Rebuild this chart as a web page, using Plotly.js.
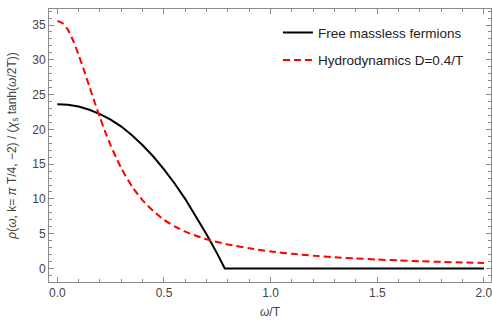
<!DOCTYPE html>
<html>
<head>
<meta charset="utf-8">
<script src="https://cdn.plot.ly/plotly-3.0.1.min.js"></script>
<style>html,body{margin:0;padding:0;background:#fff;}#chart{width:492px;height:321px;}</style>
</head>
<body>
<div id="chart"></div>
<script>
// Free massless fermions
const freeOmega = [0, 0.05, 0.10, 0.15, 0.20, 0.25, 0.30, 0.35, 0.40, 0.45, 0.50, 0.55, 0.60, 0.65, 0.70, 0.75, 0.785, 2.0];
const freeRho   = [23.6, 23.52, 23.28, 22.82, 22.2, 21.4, 20.4, 19.15, 17.72, 16.1, 14.25, 12.22, 9.98, 7.54, 4.9, 2.1, 0, 0];
// Hydrodynamics D=0.4/T
const hydroOmega = [0, 0.025, 0.05, 0.075, 0.10, 0.125, 0.15, 0.175, 0.20, 0.225, 0.25, 0.275, 0.30, 0.35, 0.40, 0.45, 0.50, 0.55, 0.60, 0.65, 0.70, 0.75, 0.80, 0.90, 1.0, 1.1, 1.2, 1.3, 1.4, 1.5, 1.6, 1.7, 1.8, 1.9, 2.0];
const hydroRho   = [35.6, 35.25, 34.3, 32.7, 30.7, 28.5, 26.2, 23.9, 21.7, 19.6, 17.7, 16.0, 14.4, 11.8, 9.8, 8.25, 7.0, 6.05, 5.3, 4.7, 4.2, 3.8, 3.45, 2.9, 2.45, 2.12, 1.85, 1.62, 1.44, 1.29, 1.16, 1.05, 0.95, 0.87, 0.8];
const seriesNames = ["Free massless fermions", "Hydrodynamics D=0.4/T"];
const xTickVals = [0, 0.5, 1.0, 1.5, 2.0];
const xTickText = ["0.0", "0.5", "1.0", "1.5", "2.0"];
const yTickVals = [0, 5, 10, 15, 20, 25, 30, 35];
const xTitle = "<i>ω</i>/T";
const yTitle = "<i>ρ</i>(<i>ω</i>, k= <i>π</i> T/4, −2) / (<i>χ</i><sub>s</sub> tanh(<i>ω</i>/2T))";

const FONT = "Liberation Sans, Arial, sans-serif";
const FRAME = "#8c8c8c";
const LABEL = "#444444";

const traces = [
  {x: freeOmega, y: freeRho, type: "scatter", mode: "lines", name: seriesNames[0],
   legendgroup: "a", line: {color: "#000000", width: 2}},
  {x: hydroOmega, y: hydroRho, type: "scatter", mode: "lines", name: seriesNames[1],
   legendgroup: "b", line: {color: "#ff0000", width: 2, dash: "7px,4px", shape: "spline", smoothing: 0.6}}
];

const axisCommon = {
  showline: true, linecolor: FRAME, linewidth: 1, mirror: "ticks",
  ticks: "inside", ticklen: 5, tickwidth: 1, tickcolor: FRAME,
  showgrid: false, zeroline: false, ticklabeloverflow: "allow",
  tickfont: {family: FONT, size: 12, color: LABEL}
};

const layout = {
  width: 492, height: 321,
  margin: {l: 49, r: 1, t: 9, b: 39, pad: 0},
  paper_bgcolor: "#ffffff", plot_bgcolor: "#ffffff",
  font: {family: FONT, size: 12, color: LABEL},
  showlegend: true,
  legend: {x: 0.518, y: 0.97, xanchor: "left", yanchor: "top",
           bgcolor: "rgba(0,0,0,0)", traceorder: "grouped", tracegroupgap: 7,
           font: {family: FONT, size: 13.5, color: "#222222"}},
  xaxis: Object.assign({}, axisCommon, {
    range: [-0.039, 2.033], tickvals: xTickVals, ticktext: xTickText,
    minor: {dtick: 0.1, tick0: 0, ticks: "inside", ticklen: 3, tickcolor: FRAME}
  }),
  yaxis: Object.assign({}, axisCommon, {
    range: [-1.94, 37.3], tickvals: yTickVals,
    minor: {dtick: 1, tick0: 0, ticks: "inside", ticklen: 3, tickcolor: FRAME},
    title: {text: yTitle, font: {family: FONT, size: 12, color: LABEL}, standoff: 13}
  }),
  annotations: [
    {text: xTitle, xref: "paper", yref: "paper", x: 0.5, y: 0, xanchor: "center", yanchor: "bottom",
     yshift: -38, borderpad: 0, showarrow: false, font: {family: FONT, size: 12, color: LABEL}}
  ]
};

Plotly.newPlot("chart", traces, layout, {displayModeBar: false, staticPlot: true});
</script>
</body>
</html>
